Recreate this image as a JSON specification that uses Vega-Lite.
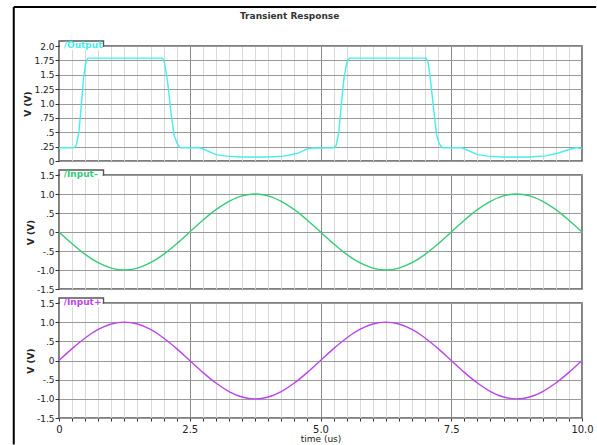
{
  "$schema": "https://vega.github.io/schema/vega-lite/v6.json",
  "padding": {"left": 12, "top": 5, "right": 0, "bottom": 0},
  "background": "white",
  "config": {
    "view": {"stroke": "#555", "strokeWidth": 1.5},
    "font": "DejaVu Sans",
    "axis": {"labelFont": "DejaVu Sans", "titleFont": "DejaVu Sans"}
  },
  "datasets": {
    "out": [
      {"t": 0, "v": 0.23}, {"t": 0.28, "v": 0.23}, {"t": 0.33, "v": 0.27}, {"t": 0.38, "v": 0.5},
      {"t": 0.43, "v": 1.0}, {"t": 0.47, "v": 1.45}, {"t": 0.51, "v": 1.7}, {"t": 0.55, "v": 1.79},
      {"t": 1.98, "v": 1.79}, {"t": 2.02, "v": 1.7}, {"t": 2.08, "v": 1.35}, {"t": 2.14, "v": 0.85},
      {"t": 2.2, "v": 0.45}, {"t": 2.26, "v": 0.3}, {"t": 2.32, "v": 0.23}, {"t": 2.7, "v": 0.23},
      {"t": 2.85, "v": 0.17}, {"t": 3.0, "v": 0.11}, {"t": 3.2, "v": 0.085}, {"t": 3.5, "v": 0.07},
      {"t": 4.0, "v": 0.07}, {"t": 4.3, "v": 0.085}, {"t": 4.55, "v": 0.13}, {"t": 4.75, "v": 0.21},
      {"t": 4.85, "v": 0.225}, {"t": 5.25, "v": 0.23}, {"t": 5.3, "v": 0.27}, {"t": 5.35, "v": 0.5},
      {"t": 5.4, "v": 1.0}, {"t": 5.45, "v": 1.45}, {"t": 5.5, "v": 1.7}, {"t": 5.55, "v": 1.79},
      {"t": 7.02, "v": 1.79}, {"t": 7.06, "v": 1.7}, {"t": 7.11, "v": 1.35}, {"t": 7.17, "v": 0.85},
      {"t": 7.22, "v": 0.45}, {"t": 7.27, "v": 0.3}, {"t": 7.33, "v": 0.23}, {"t": 7.7, "v": 0.23},
      {"t": 7.85, "v": 0.17}, {"t": 8.0, "v": 0.11}, {"t": 8.2, "v": 0.085}, {"t": 8.5, "v": 0.07},
      {"t": 9.0, "v": 0.07}, {"t": 9.3, "v": 0.09}, {"t": 9.55, "v": 0.14}, {"t": 9.75, "v": 0.2},
      {"t": 9.9, "v": 0.235}, {"t": 10.0, "v": 0.21}
    ],
    "sine": [
      {"t": 0, "p": 0, "m": 0}, {"t": 0.25, "p": 0.309, "m": -0.309}, {"t": 0.5, "p": 0.588, "m": -0.588},
      {"t": 0.75, "p": 0.809, "m": -0.809}, {"t": 1.0, "p": 0.951, "m": -0.951}, {"t": 1.25, "p": 1, "m": -1},
      {"t": 1.5, "p": 0.951, "m": -0.951}, {"t": 1.75, "p": 0.809, "m": -0.809}, {"t": 2.0, "p": 0.588, "m": -0.588},
      {"t": 2.25, "p": 0.309, "m": -0.309}, {"t": 2.5, "p": 0, "m": 0}, {"t": 2.75, "p": -0.309, "m": 0.309},
      {"t": 3.0, "p": -0.588, "m": 0.588}, {"t": 3.25, "p": -0.809, "m": 0.809}, {"t": 3.5, "p": -0.951, "m": 0.951},
      {"t": 3.75, "p": -1, "m": 1}, {"t": 4.0, "p": -0.951, "m": 0.951}, {"t": 4.25, "p": -0.809, "m": 0.809},
      {"t": 4.5, "p": -0.588, "m": 0.588}, {"t": 4.75, "p": -0.309, "m": 0.309}, {"t": 5.0, "p": 0, "m": 0},
      {"t": 5.25, "p": 0.309, "m": -0.309}, {"t": 5.5, "p": 0.588, "m": -0.588}, {"t": 5.75, "p": 0.809, "m": -0.809},
      {"t": 6.0, "p": 0.951, "m": -0.951}, {"t": 6.25, "p": 1, "m": -1}, {"t": 6.5, "p": 0.951, "m": -0.951},
      {"t": 6.75, "p": 0.809, "m": -0.809}, {"t": 7.0, "p": 0.588, "m": -0.588}, {"t": 7.25, "p": 0.309, "m": -0.309},
      {"t": 7.5, "p": 0, "m": 0}, {"t": 7.75, "p": -0.309, "m": 0.309}, {"t": 8.0, "p": -0.588, "m": 0.588},
      {"t": 8.25, "p": -0.809, "m": 0.809}, {"t": 8.5, "p": -0.951, "m": 0.951}, {"t": 8.75, "p": -1, "m": 1},
      {"t": 9.0, "p": -0.951, "m": 0.951}, {"t": 9.25, "p": -0.809, "m": 0.809}, {"t": 9.5, "p": -0.588, "m": 0.588},
      {"t": 9.75, "p": -0.309, "m": 0.309}, {"t": 10.0, "p": 0, "m": 0}
    ],
    "one": [{}]
  },
  "vconcat": [
    {
      "width": 523, "height": 115,
      "resolve": {"scale": {"x": "independent", "y": "independent"}, "axis": {"x": "independent", "y": "independent"}},
      "layer": [
        {
          "data": {"name": "out"},
          "mark": {"type": "line", "color": "#44eeee", "strokeWidth": 1.4},
          "encoding": {
            "x": {"field": "t", "type": "quantitative", "scale": {"domain": [0, 10], "nice": false},
              "axis": {"title": null, "labels": false, "ticks": false, "domain": false, "grid": true,
                "values": [0,0.25,0.5,0.75,1,1.25,1.5,1.75,2,2.25,2.5,2.75,3,3.25,3.5,3.75,4,4.25,4.5,4.75,5,5.25,5.5,5.75,6,6.25,6.5,6.75,7,7.25,7.5,7.75,8,8.25,8.5,8.75,9,9.25,9.5,9.75,10],
                "gridColor": {"condition": {"test": "datum.value % 2.5 == 0", "value": "#8a8a8a"}, "value": "#d9d9d9"}}},
            "y": {"field": "v", "type": "quantitative", "scale": {"domain": [0, 2], "nice": false, "zero": false},
              "axis": {"title": "V (V)", "titleFontSize": 9, "titleFontWeight": "bold", "titleColor": "#222", "titlePadding": 1,
                "values": [0,0.25,0.5,0.75,1,1.25,1.5,1.75,2], "grid": true, "gridColor": "#9a9a9a", "domain": false,
                "tickColor": "#333", "tickSize": 4, "labelFontSize": 9, "labelColor": "#222", "labelPadding": 1,
                "labelExpr": "datum.value == 0 ? '0' : replace(abs(datum.value) < 1 ? replace(format(datum.value, '.2~f'), '0.', '.') : format(datum.value, (datum.value * 2) % 1 == 0 ? '.1f' : '.2f'), '\u2212', '-')"}}
          }
        },
        {
          "data": {"name": "one"},
          "mark": {"type": "rect", "fill": "white", "stroke": "#555", "strokeWidth": 1.5},
          "encoding": {
            "x": {"datum": 0, "type": "quantitative", "scale": {"domain": [0, 10], "nice": false}, "axis": null},
            "x2": {"datum": 0.85},
            "y": {"datum": 2.0, "type": "quantitative", "scale": {"domain": [0, 2], "nice": false, "zero": false}, "axis": null},
            "y2": {"datum": 2.087}
          }
        },
        {
          "data": {"name": "one"},
          "mark": {"type": "rect", "fill": "white"},
          "encoding": {
            "x": {"datum": 0.02, "type": "quantitative", "scale": {"domain": [0, 10], "nice": false}, "axis": null},
            "x2": {"datum": 0.835},
            "y": {"datum": 1.93, "type": "quantitative", "scale": {"domain": [0, 2], "nice": false, "zero": false}, "axis": null},
            "y2": {"datum": 2.06}
          }
        },
        {
          "data": {"name": "one"},
          "mark": {"type": "text", "text": "/Output", "color": "#44eeee", "fontSize": 9, "fontWeight": "bold", "align": "left", "baseline": "middle", "dy": -1},
          "encoding": {
            "x": {"datum": 0.09, "type": "quantitative", "scale": {"domain": [0, 10], "nice": false}, "axis": null},
            "y": {"datum": 2.0, "type": "quantitative", "scale": {"domain": [0, 2], "nice": false, "zero": false}, "axis": null}
          }
        },
        {
          "data": {"name": "one"},
          "mark": {"type": "text", "text": "Transient Response", "color": "#333", "fontSize": 9, "fontWeight": "bold", "align": "center", "baseline": "middle"},
          "encoding": {
            "x": {"datum": 4.41, "type": "quantitative", "scale": {"domain": [0, 10], "nice": false}, "axis": null},
            "y": {"datum": 2.52, "type": "quantitative", "scale": {"domain": [0, 2], "nice": false, "zero": false}, "axis": null}
          }
        },
        {
          "data": {"name": "one"},
          "mark": {"type": "rule", "color": "black", "strokeWidth": 2},
          "encoding": {
            "x": {"datum": -0.865, "type": "quantitative", "scale": {"domain": [0, 10], "nice": false}, "axis": null},
            "x2": {"datum": 10.27},
            "y": {"datum": 2.678, "type": "quantitative", "scale": {"domain": [0, 2], "nice": false, "zero": false}, "axis": null}
          }
        },
        {
          "data": {"name": "one"},
          "mark": {"type": "rule", "color": "black", "strokeWidth": 2},
          "encoding": {
            "x": {"datum": -0.865, "type": "quantitative", "scale": {"domain": [0, 10], "nice": false}, "axis": null},
            "y": {"datum": 2.678, "type": "quantitative", "scale": {"domain": [0, 2], "nice": false, "zero": false}, "axis": null},
            "y2": {"datum": -4.93}
          }
        }
      ]
    },
    {
      "width": 523, "height": 114,
      "resolve": {"scale": {"x": "independent", "y": "independent"}, "axis": {"x": "independent", "y": "independent"}},
      "layer": [
        {
          "data": {"name": "sine"},
          "mark": {"type": "line", "color": "#33cc77", "strokeWidth": 1.4, "interpolate": "monotone"},
          "encoding": {
            "x": {"field": "t", "type": "quantitative", "scale": {"domain": [0, 10], "nice": false},
              "axis": {"title": null, "labels": false, "ticks": false, "domain": false, "grid": true,
                "values": [0,0.25,0.5,0.75,1,1.25,1.5,1.75,2,2.25,2.5,2.75,3,3.25,3.5,3.75,4,4.25,4.5,4.75,5,5.25,5.5,5.75,6,6.25,6.5,6.75,7,7.25,7.5,7.75,8,8.25,8.5,8.75,9,9.25,9.5,9.75,10],
                "gridColor": {"condition": {"test": "datum.value % 2.5 == 0", "value": "#8a8a8a"}, "value": "#d9d9d9"}}},
            "y": {"field": "m", "type": "quantitative", "scale": {"domain": [-1.5, 1.5], "nice": false, "zero": false},
              "axis": {"title": "V (V)", "titleFontSize": 9, "titleFontWeight": "bold", "titleColor": "#222", "titlePadding": 1,
                "values": [-1.5,-1,-0.5,0,0.5,1,1.5], "grid": true, "gridColor": "#9a9a9a", "domain": false,
                "tickColor": "#333", "tickSize": 4, "labelFontSize": 9, "labelColor": "#222", "labelPadding": 1,
                "labelExpr": "datum.value == 0 ? '0' : replace(abs(datum.value) < 1 ? replace(format(datum.value, '.2~f'), '0.', '.') : format(datum.value, (datum.value * 2) % 1 == 0 ? '.1f' : '.2f'), '\u2212', '-')"}}
          }
        },
        {
          "data": {"name": "one"},
          "mark": {"type": "rect", "fill": "white", "stroke": "#555", "strokeWidth": 1.5},
          "encoding": {
            "x": {"datum": 0, "type": "quantitative", "scale": {"domain": [0, 10], "nice": false}, "axis": null},
            "x2": {"datum": 0.85},
            "y": {"datum": 1.5, "type": "quantitative", "scale": {"domain": [-1.5, 1.5], "nice": false, "zero": false}, "axis": null},
            "y2": {"datum": 1.632}
          }
        },
        {
          "data": {"name": "one"},
          "mark": {"type": "rect", "fill": "white"},
          "encoding": {
            "x": {"datum": 0.02, "type": "quantitative", "scale": {"domain": [0, 10], "nice": false}, "axis": null},
            "x2": {"datum": 0.835},
            "y": {"datum": 1.395, "type": "quantitative", "scale": {"domain": [-1.5, 1.5], "nice": false, "zero": false}, "axis": null},
            "y2": {"datum": 1.593}
          }
        },
        {
          "data": {"name": "one"},
          "mark": {"type": "text", "text": "/Input-", "color": "#33cc77", "fontSize": 9, "fontWeight": "bold", "align": "left", "baseline": "middle", "dy": -1},
          "encoding": {
            "x": {"datum": 0.09, "type": "quantitative", "scale": {"domain": [0, 10], "nice": false}, "axis": null},
            "y": {"datum": 1.5, "type": "quantitative", "scale": {"domain": [-1.5, 1.5], "nice": false, "zero": false}, "axis": null}
          }
        }
      ]
    },
    {
      "width": 523, "height": 115,
      "resolve": {"scale": {"x": "independent", "y": "independent"}, "axis": {"x": "independent", "y": "independent"}},
      "layer": [
        {
          "data": {"name": "sine"},
          "mark": {"type": "line", "color": "#bb44ee", "strokeWidth": 1.4, "interpolate": "monotone"},
          "encoding": {
            "x": {"field": "t", "type": "quantitative", "scale": {"domain": [0, 10], "nice": false},
              "axis": {"title": "time (us)", "titleFontSize": 9, "titleFontWeight": "normal", "titleColor": "#222", "titlePadding": 0,
                "domain": false, "grid": true, "ticks": true, "tickSize": 3, "tickColor": "#333",
                "labelFontSize": 10, "labelColor": "#222", "labelPadding": 3, "labelOverlap": false, "labelBound": false, "labelFlush": false,
                "values": [0,0.25,0.5,0.75,1,1.25,1.5,1.75,2,2.25,2.5,2.75,3,3.25,3.5,3.75,4,4.25,4.5,4.75,5,5.25,5.5,5.75,6,6.25,6.5,6.75,7,7.25,7.5,7.75,8,8.25,8.5,8.75,9,9.25,9.5,9.75,10],
                "labelExpr": "datum.value % 2.5 == 0 ? (datum.value == 0 ? '0' : format(datum.value, '.1f')) : ''",
                "gridColor": {"condition": {"test": "datum.value % 2.5 == 0", "value": "#8a8a8a"}, "value": "#d9d9d9"}}},
            "y": {"field": "p", "type": "quantitative", "scale": {"domain": [-1.5, 1.5], "nice": false, "zero": false},
              "axis": {"title": "V (V)", "titleFontSize": 9, "titleFontWeight": "bold", "titleColor": "#222", "titlePadding": 1,
                "values": [-1.5,-1,-0.5,0,0.5,1,1.5], "grid": true, "gridColor": "#9a9a9a", "domain": false,
                "tickColor": "#333", "tickSize": 4, "labelFontSize": 9, "labelColor": "#222", "labelPadding": 1,
                "labelExpr": "datum.value == 0 ? '0' : replace(abs(datum.value) < 1 ? replace(format(datum.value, '.2~f'), '0.', '.') : format(datum.value, (datum.value * 2) % 1 == 0 ? '.1f' : '.2f'), '\u2212', '-')"}}
          }
        },
        {
          "data": {"name": "one"},
          "mark": {"type": "rect", "fill": "white", "stroke": "#555", "strokeWidth": 1.5},
          "encoding": {
            "x": {"datum": 0, "type": "quantitative", "scale": {"domain": [0, 10], "nice": false}, "axis": null},
            "x2": {"datum": 0.85},
            "y": {"datum": 1.5, "type": "quantitative", "scale": {"domain": [-1.5, 1.5], "nice": false, "zero": false}, "axis": null},
            "y2": {"datum": 1.63}
          }
        },
        {
          "data": {"name": "one"},
          "mark": {"type": "rect", "fill": "white"},
          "encoding": {
            "x": {"datum": 0.02, "type": "quantitative", "scale": {"domain": [0, 10], "nice": false}, "axis": null},
            "x2": {"datum": 0.835},
            "y": {"datum": 1.396, "type": "quantitative", "scale": {"domain": [-1.5, 1.5], "nice": false, "zero": false}, "axis": null},
            "y2": {"datum": 1.591}
          }
        },
        {
          "data": {"name": "one"},
          "mark": {"type": "text", "text": "/Input+", "color": "#bb44ee", "fontSize": 9, "fontWeight": "bold", "align": "left", "baseline": "middle", "dy": -1},
          "encoding": {
            "x": {"datum": 0.09, "type": "quantitative", "scale": {"domain": [0, 10], "nice": false}, "axis": null},
            "y": {"datum": 1.5, "type": "quantitative", "scale": {"domain": [-1.5, 1.5], "nice": false, "zero": false}, "axis": null}
          }
        }
      ]
    }
  ],
  "bounds": "flush",
  "spacing": 14
}
